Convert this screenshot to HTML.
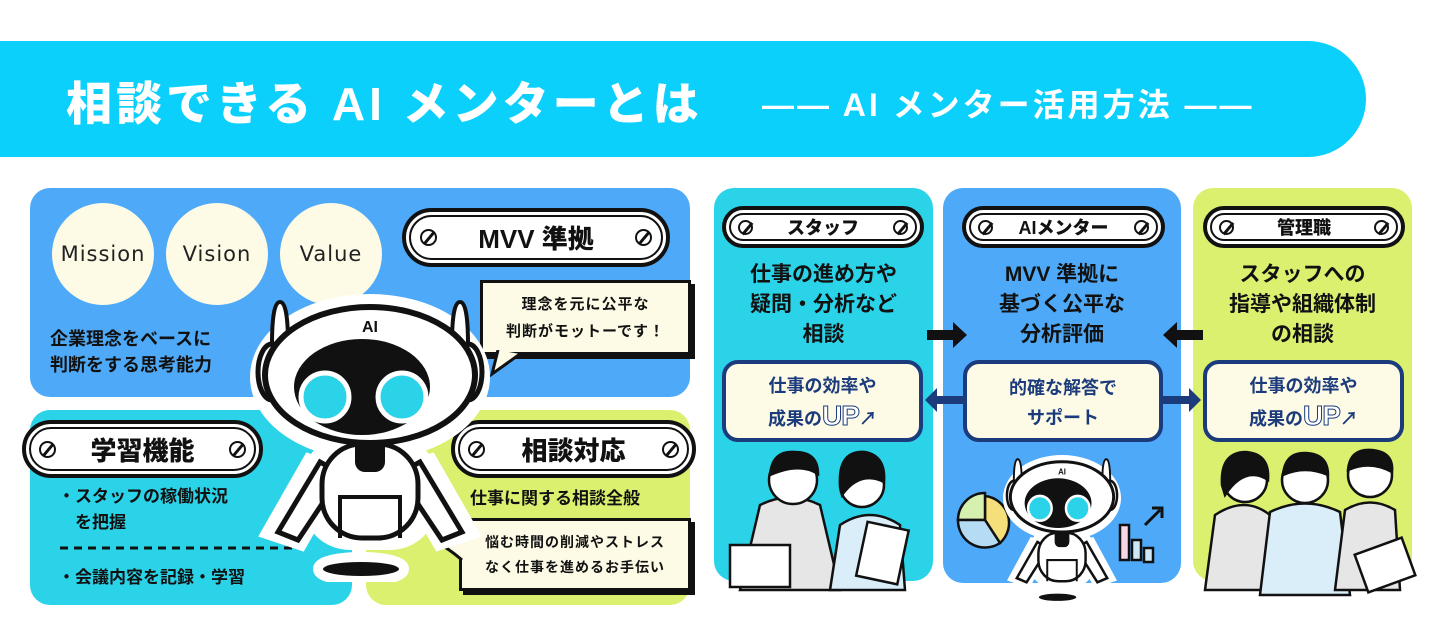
<!DOCTYPE html>
<html><head><meta charset="utf-8">
<style>
*{margin:0;padding:0;box-sizing:border-box}
body{width:1440px;height:629px;background:#fff;position:relative;overflow:hidden;font-family:"Liberation Sans","Noto Sans CJK JP",sans-serif;font-weight:700;color:#111}
.a{position:absolute}
.banner{left:0;top:41px;width:1366px;height:116px;background:#0cd0fc;border-radius:0 58px 58px 0}
.t1{left:66px;top:68px;font-size:46px;color:#fff;letter-spacing:4px;white-space:nowrap;font-weight:900}
.t2{left:762px;top:80px;font-size:32px;color:#fff;white-space:nowrap;letter-spacing:3px}
.badge{position:absolute;background:#fff;border:4px solid #111;border-radius:40px;display:flex;align-items:center;justify-content:center;font-weight:900}
.badge::before{content:"";position:absolute;left:3px;top:3px;right:3px;bottom:3px;border:2px solid #111;border-radius:40px}
.sc{position:absolute;top:50%;width:17px;height:17px;margin-top:-8.5px;border:2.5px solid #111;border-radius:50%}
.sc::after{content:"";position:absolute;left:6px;top:-1px;width:2.5px;height:15px;background:#111;transform:rotate(40deg)}
.circ{position:absolute;width:102px;height:102px;border-radius:50%;background:#fdfbe6;display:flex;align-items:center;justify-content:center;font-size:21px;font-weight:400;letter-spacing:1px;font-family:"DejaVu Sans",sans-serif;color:#222}
.bub{position:absolute;background:#fdfbe6;border:3px solid #111;box-shadow:4px 4px 0 #111;font-size:15px;line-height:27px;text-align:center;display:flex;align-items:center;justify-content:center;letter-spacing:1px}
.txt{position:absolute;font-size:18px;white-space:nowrap}
.col{position:absolute;top:188px;height:393px;border-radius:20px}
.ct{position:absolute;font-size:21px;line-height:30px;text-align:center;white-space:nowrap}
.box{position:absolute;top:360px;height:82px;width:201px;border:4px solid #1b3b7c;border-radius:16px;background:#fdfbe6;color:#1b3b7c;font-size:18px;line-height:30px;text-align:center;padding-top:7px}
.up{font-size:28px;font-weight:900;-webkit-text-stroke:1px #1b3b7c;color:#fff;letter-spacing:-1px}
</style></head><body>
<div class="a banner"></div>
<div class="a t1">相談できる AI メンターとは</div>
<div class="a t2">—— AI メンター活用方法 ——</div>

<div class="a" style="left:30px;top:188px;width:660px;height:209px;background:#4eaaf8;border-radius:20px"></div>
<div class="a" style="left:30px;top:410px;width:322px;height:195px;background:#2bd3e8;border-radius:20px"></div>
<div class="a" style="left:366px;top:410px;width:324px;height:195px;background:#dcf070;border-radius:20px"></div>

<div class="circ" style="left:52px;top:203px">Mission</div>
<div class="circ" style="left:166px;top:203px">Vision</div>
<div class="circ" style="left:280px;top:203px">Value</div>
<div class="txt" style="left:50px;top:326px;line-height:26px">企業理念をベースに<br>判断をする思考能力</div>

<div class="badge" style="left:402px;top:208px;width:268px;height:59px;font-size:26px"><span class="sc" style="left:14px"></span>MVV 準拠<span class="sc" style="right:14px"></span></div>
<div class="bub" style="left:480px;top:280px;width:211px;height:75px">理念を元に公平な<br>判断がモットーです！</div>
<svg class="a" style="left:490px;top:350px" width="40" height="30"><path d="M8 0 L2 24 L30 4" fill="#fdfbe6" stroke="#111" stroke-width="3"/></svg>

<div class="badge" style="left:22px;top:420px;width:241px;height:58px;font-size:26px"><span class="sc" style="left:13px"></span>学習機能<span class="sc" style="right:13px"></span></div>
<div class="badge" style="left:451px;top:420px;width:245px;height:58px;font-size:26px"><span class="sc" style="left:13px"></span>相談対応<span class="sc" style="right:13px"></span></div>
<div class="txt" style="left:58px;top:484px;font-size:17px;line-height:26px">・スタッフの稼働状況<br>　を把握</div>
<svg class="a" style="left:58px;top:545px" width="245" height="6"><line x1="2" y1="3" x2="242" y2="3" stroke="#111" stroke-width="3" stroke-dasharray="8 6"/></svg>
<div class="txt" style="left:58px;top:563px;font-size:17px">・会議内容を記録・学習</div>
<div class="txt" style="left:470px;top:484px;font-size:17px">仕事に関する相談全般</div>
<div class="bub" style="left:459px;top:518px;width:232px;height:73px;font-size:14px;line-height:25px">悩む時間の削減やストレス<br>なく仕事を進めるお手伝い</div>
<svg class="a" style="left:434px;top:530px" width="30" height="34"><path d="M28 3 Q14 10 2 12 Q14 18 28 30" fill="#fdfbe6" stroke="#111" stroke-width="3"/></svg>

<svg width="0" height="0" style="position:absolute"><defs>
<symbol id="rob" viewBox="0 0 240 290">
<g stroke="#fff" stroke-width="16" fill="#fff">
<ellipse cx="120" cy="85" rx="112" ry="75"/><rect x="60" y="150" width="120" height="100" rx="40"/>
<path d="M60 170 L20 240 L50 250 L90 180Z M180 170 L220 240 L190 250 L150 180Z"/>
<ellipse cx="111" cy="277" rx="40" ry="9"/></g>
<path d="M22 52 Q22 10 30 10 Q38 10 38 52Z M218 52 Q218 10 210 10 Q202 10 202 52Z" fill="#fff" stroke="#111" stroke-width="4"/>
<ellipse cx="22" cy="80" rx="14" ry="28" fill="#fff" stroke="#111" stroke-width="5"/>
<ellipse cx="218" cy="80" rx="14" ry="28" fill="#fff" stroke="#111" stroke-width="5"/>
<path d="M70 170 L28 240 L48 248 L92 182Z M170 170 L212 240 L192 248 L148 182Z" fill="#fff" stroke="#111" stroke-width="5"/>
<rect x="72" y="152" width="96" height="94" rx="40" fill="#fff" stroke="#111" stroke-width="5"/>
<path d="M90 246 L90 205 L150 205 L150 246" fill="none" stroke="#111" stroke-width="4"/>
<rect x="105" y="140" width="30" height="40" rx="10" fill="#111"/>
<ellipse cx="120" cy="83" rx="105" ry="68" fill="#fff" stroke="#111" stroke-width="6"/>
<ellipse cx="112" cy="95" rx="68" ry="48" fill="#111"/>
<circle cx="75" cy="105" r="24" fill="#2bd3e8" stroke="#fff" stroke-width="5"/>
<circle cx="152" cy="105" r="24" fill="#2bd3e8" stroke="#fff" stroke-width="5"/>
<text x="120" y="40" font-size="16" font-weight="900" text-anchor="middle" font-family="Liberation Sans,sans-serif" fill="#111">AI</text>
<ellipse cx="111" cy="277" rx="38" ry="7" fill="#111"/>
</symbol></defs></svg>
<svg class="a" style="left:250px;top:292px" width="240" height="290"><use href="#rob"/></svg>

<div class="col" style="left:714px;width:219px;background:#2bd3e8"></div>
<div class="col" style="left:943px;width:238px;height:395px;background:#4eaaf8"></div>
<div class="col" style="left:1193px;width:219px;background:#dcf070"></div>

<div class="badge" style="left:722px;top:206px;width:202px;height:42px;font-size:18px"><span class="sc" style="left:12px;width:15px;height:15px;margin-top:-7.5px"></span>スタッフ<span class="sc" style="right:12px;width:15px;height:15px;margin-top:-7.5px"></span></div>
<div class="badge" style="left:962px;top:206px;width:203px;height:42px;font-size:18px"><span class="sc" style="left:12px;width:15px;height:15px;margin-top:-7.5px"></span>AIメンター<span class="sc" style="right:12px;width:15px;height:15px;margin-top:-7.5px"></span></div>
<div class="badge" style="left:1203px;top:206px;width:202px;height:42px;font-size:18px"><span class="sc" style="left:12px;width:15px;height:15px;margin-top:-7.5px"></span>管理職<span class="sc" style="right:12px;width:15px;height:15px;margin-top:-7.5px"></span></div>

<div class="ct" style="left:714px;width:219px;top:260px">仕事の進め方や<br>疑問・分析など<br>相談</div>
<div class="ct" style="left:943px;width:238px;top:260px">MVV 準拠に<br>基づく公平な<br>分析評価</div>
<div class="ct" style="left:1193px;width:219px;top:260px">スタッフへの<br>指導や組織体制<br>の相談</div>

<div class="box" style="left:722px">仕事の効率や<br>成果の<span class="up">UP</span>↗</div>
<div class="box" style="left:963px;width:200px;padding-top:9px">的確な解答で<br>サポート</div>
<div class="box" style="left:1203px">仕事の効率や<br>成果の<span class="up">UP</span>↗</div>

<svg class="a" style="left:0;top:0" width="1440" height="629">
<path d="M927 330 h26 v-8 l14 13 -14 13 v-8 h-26z" fill="#111"/>
<path d="M1203 330 h-26 v-8 l-14 13 14 13 v-8 h26z" fill="#111"/>
<path d="M963 396 h-26 v-8 l-12 12 12 12 v-8 h26z" fill="#1b3b7c"/>
<path d="M1163 396 h26 v-8 l12 12 -12 12 v-8 h-26z" fill="#1b3b7c"/>
<g stroke="#111" stroke-width="2.5">
<path d="M740 590 L760 505 Q790 490 820 505 L840 590Z" fill="#e6e6e6"/>
<circle cx="793" cy="480" r="24" fill="#fff"/><path d="M770 475 Q772 450 795 452 Q818 452 818 474 Q800 462 770 475Z" fill="#111"/>
<path d="M830 590 L840 525 Q870 505 900 525 L905 590Z" fill="#d9eef8"/>
<circle cx="862" cy="485" r="22" fill="#fff"/><path d="M840 485 Q838 450 865 452 Q886 456 884 482 Q860 470 842 495Z" fill="#111"/>
<rect x="730" y="545" width="60" height="42" fill="#fff"/>
<rect x="862" y="525" width="42" height="55" fill="#fff" transform="rotate(12 880 550)"/>
<path d="M1205 590 L1215 515 Q1245 495 1270 515 L1275 590Z" fill="#e6e6e6"/>
<circle cx="1245" cy="480" r="22" fill="#fff"/><path d="M1222 485 Q1220 452 1246 452 Q1270 454 1268 480 Q1245 465 1225 495Z" fill="#111"/>
<path d="M1260 595 L1270 512 Q1305 495 1340 512 L1350 595Z" fill="#d9eef8"/>
<circle cx="1305" cy="480" r="23" fill="#fff"/><path d="M1283 475 Q1285 452 1306 453 Q1328 454 1328 475 Q1305 465 1283 475Z" fill="#111"/>
<path d="M1335 590 L1345 510 Q1370 495 1395 510 L1400 590Z" fill="#e6e6e6"/>
<circle cx="1370" cy="475" r="22" fill="#fff"/><path d="M1348 470 Q1350 448 1372 450 Q1394 452 1392 472 Q1370 460 1348 470Z" fill="#111"/>
<rect x="1360" y="545" width="50" height="40" fill="#fff" transform="rotate(-20 1385 565)"/>
<path d="M985 520 L985 496 A27 27 0 0 1 1000 543Z" fill="#f5df7a"/>
<path d="M985 520 L958 520 A27 27 0 0 1 985 493Z" fill="#d6f0b0"/>
<path d="M985 520 L1000 543 A27 27 0 0 1 958 520Z" fill="#b6dcf5"/>
<rect x="1120" y="525" width="9" height="35" fill="#f7d6e6"/><rect x="1132" y="540" width="9" height="20" fill="#cfe7f7"/><rect x="1144" y="548" width="9" height="14" fill="#cfe7f7"/>
</g>
<path d="M1145 525 L1160 510 M1152 508 h10 v10" stroke="#111" stroke-width="3" fill="none"/>
</svg>
<svg class="a" style="left:1003px;top:454px" width="118" height="150" viewBox="0 0 240 290" preserveAspectRatio="none"><use href="#rob"/></svg>
</body></html>
